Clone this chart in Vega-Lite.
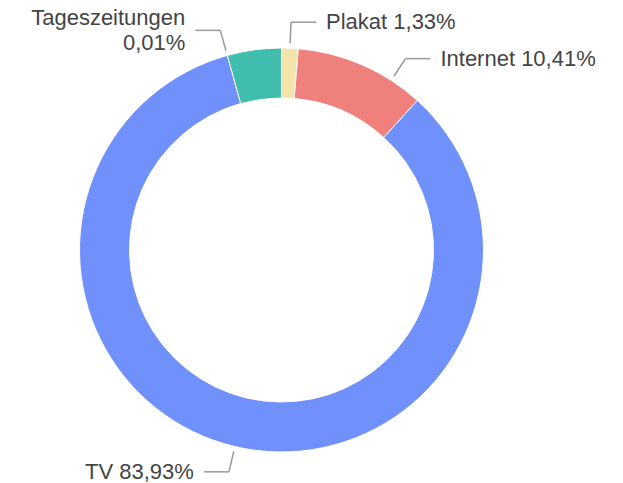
{
  "$schema": "https://vega.github.io/schema/vega-lite/v6.json",
  "width": 563,
  "height": 466,
  "autosize": {"type": "none"},
  "padding": {"left": 0, "top": 17, "right": 60, "bottom": 0},
  "background": "white",
  "config": {"view": {"stroke": null}, "font": "Liberation Sans"},
  "data": {
    "values": [
      {"medium": "Plakat", "value": 1.33},
      {"medium": "Internet", "value": 10.41},
      {"medium": "TV", "value": 83.93},
      {"medium": "Tageszeitungen", "value": 0.01},
      {"medium": "Zeitschriften", "value": 4.32}
    ]
  },
  "transform": [
    {"window": [{"op": "sum", "field": "value", "as": "end"}], "frame": [null, 0]},
    {"calculate": "datum.end - datum.value", "as": "start"},
    {"calculate": "(datum.start + datum.end) / 100 * PI", "as": "mid"},
    {"calculate": "datum.mid + (datum.medium === 'Internet' ? 0.164 : 0)", "as": "la"},
    {"calculate": "sin(datum.la) >= 0 ? 1 : -1", "as": "side"},
    {"calculate": "width / 2 + 207 * sin(datum.la)", "as": "x1"},
    {"calculate": "height / 2 - 207 * cos(datum.la)", "as": "y1"},
    {"calculate": "width / 2 + 228 * sin(datum.la)", "as": "x2"},
    {"calculate": "height / 2 - 228 * cos(datum.la)", "as": "y2"},
    {"calculate": "datum.x2 + 25 * datum.side", "as": "x3"},
    {"calculate": "datum.x3 + 10 * datum.side", "as": "tx"},
    {"calculate": "length(datum.medium) > 10 ? 2 : 1", "as": "nlines"},
    {"calculate": "datum.y2 - (datum.nlines - 1) * 12.5", "as": "ty"},
    {"calculate": "replace(format(datum.value, '.2f'), '.', ',') + '%'", "as": "pct"},
    {"calculate": "datum.nlines > 1 ? datum.medium + '|' + datum.pct : datum.medium + ' ' + datum.pct", "as": "label"}
  ],
  "layer": [
    {
      "mark": {"type": "arc", "radius": 202, "radius2": 152, "strokeWidth": 1},
      "encoding": {
        "theta": {"field": "start", "type": "quantitative", "scale": {"domain": [0, 100]}},
        "theta2": {"field": "end"},
        "color": {
          "field": "medium",
          "type": "nominal",
          "scale": {
            "domain": ["Plakat", "Internet", "TV", "Tageszeitungen", "Zeitschriften"],
            "range": ["#f2e4aa", "#f0807c", "#7090fc", "#a0a8b4", "#41bdad"]
          },
          "legend": null
        },
        "stroke": {
          "condition": {"test": "datum.medium === 'Tageszeitungen'", "value": "#a0a4ac"},
          "value": "white"
        }
      }
    },
    {
      "transform": [{"filter": "datum.medium !== 'Zeitschriften'"}],
      "mark": {"type": "rule", "color": "#999999", "strokeWidth": 1.5},
      "encoding": {
        "x": {"field": "x1", "type": "quantitative", "scale": null},
        "y": {"field": "y1", "type": "quantitative", "scale": null},
        "x2": {"field": "x2"},
        "y2": {"field": "y2"}
      }
    },
    {
      "transform": [{"filter": "datum.medium !== 'Zeitschriften'"}],
      "mark": {"type": "rule", "color": "#999999", "strokeWidth": 1.5},
      "encoding": {
        "x": {"field": "x2", "type": "quantitative", "scale": null},
        "y": {"field": "y2", "type": "quantitative", "scale": null},
        "x2": {"field": "x3"}
      }
    },
    {
      "transform": [{"filter": "datum.medium !== 'Zeitschriften' && datum.side > 0"}],
      "mark": {"type": "text", "align": "left", "baseline": "middle", "fontSize": 22, "color": "#444444", "lineBreak": "|", "lineHeight": 25},
      "encoding": {
        "x": {"field": "tx", "type": "quantitative", "scale": null},
        "y": {"field": "ty", "type": "quantitative", "scale": null},
        "text": {"field": "label"}
      }
    },
    {
      "transform": [{"filter": "datum.medium !== 'Zeitschriften' && datum.side < 0"}],
      "mark": {"type": "text", "align": "right", "baseline": "middle", "fontSize": 22, "color": "#444444", "lineBreak": "|", "lineHeight": 25},
      "encoding": {
        "x": {"field": "tx", "type": "quantitative", "scale": null},
        "y": {"field": "ty", "type": "quantitative", "scale": null},
        "text": {"field": "label"}
      }
    }
  ]
}
